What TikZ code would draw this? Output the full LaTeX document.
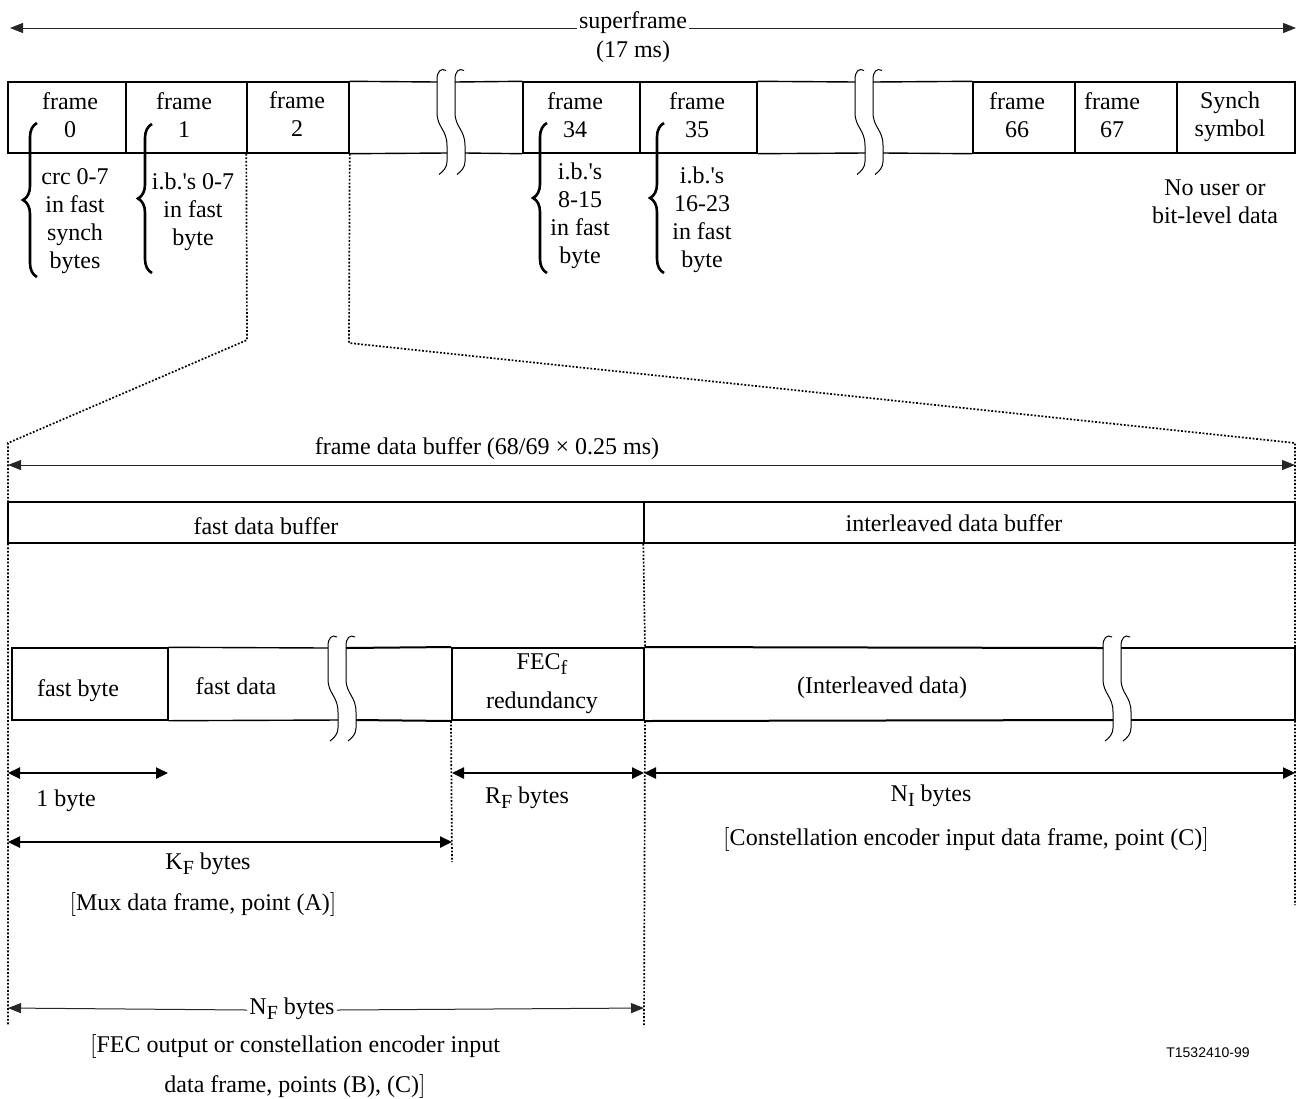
\documentclass[tikz,border=0pt]{standalone}
\usepackage{fontspec}
\setmainfont{Liberation Serif}
\newfontfamily\arialf{Liberation Sans}
\usetikzlibrary{arrows.meta,decorations.pathreplacing,fit}
\newcommand\subF[1]{\raisebox{-2.4pt}{\fontsize{10}{10}\selectfont #1}}
\begin{document}
\begin{tikzpicture}[x=0.5pt,y=-0.5pt,
  every node/.style={font=\fontsize{12}{14}\selectfont, inner sep=0pt},
  lbl/.style={align=center},
  cell/.style={draw, line width=0.7pt},
  cellh/.style={draw, line width=1pt},
  edge/.style={line width=0.7pt},
  heavy/.style={line width=1pt},
  brk/.style={line width=0.5pt},
  dots/.style={line width=0.85pt, dash pattern=on 0.9pt off 0.9pt},
  hair/.style={line width=0.5pt, draw=black!85},
  tip/.style={-{Triangle[length=6.5pt,width=5pt]}},
  dimthin/.style={line width=0.5pt, draw=black!85, {Triangle[length=6.5pt,width=5pt]}-{Triangle[length=6.5pt,width=5pt]}},
  dimthick/.style={line width=1.2pt, {Triangle[length=6pt,width=5.5pt]}-{Triangle[length=6pt,width=5.5pt]}},
  lbrace/.style={decorate, decoration={brace, amplitude=7pt}, line width=1.3pt},
  pics/breakmark/.style={code={
    \draw[brk] (9,-47) .. controls (4,-50) and (0,-46) .. (0,-38) -- (0,-5)
      .. controls (0,10) and (10,12) .. (10,28) -- (10,44)
      .. controls (10,50) and (6,54) .. (2,57);}}
]
\useasboundingbox (0,0) rectangle (1299,1098);

% ---------- superframe ----------
\node[lbl, anchor=base, inner xsep=1pt] (sf) at (633,28) {superframe};
\node[lbl] (sfms) at (633,52) {(17 ms)};
\coordinate (sfl) at (10,28);
\coordinate (sfr) at (1296,28);
\draw[hair, tip] (sf.base west) -- (sfl);
\draw[hair, tip] (sf.base east) -- (sfr);

% ---------- top row ----------
\node[cell, fit={(8,82) (126,153)}] (f0) {};
\node[cell, fit={(126,82) (247,153)}] (f1) {};
\node[cell, fit={(247,82) (349,153)}] (f2) {};
\node[cell, fit={(523,82) (640,153)}] (f34) {};
\node[cell, fit={(640,82) (757,153)}] (f35) {};
\node[cell, fit={(973,82) (1075,153)}] (f66) {};
\node[cell, fit={(1075,82) (1177,153)}] (f67) {};
\node[cell, fit={(1177,82) (1295,153)}] (syn) {};

\draw[edge] (f2.north east) -- (437,82);
\draw[edge] (f2.south east) -- (447,153);
\draw[edge] (455,82) -- (f34.north west);
\draw[edge] (465,153) -- (f34.south west);
\draw[edge] (f35.north east) -- (855,82);
\draw[edge] (f35.south east) -- (865,153);
\draw[edge] (873,82) -- (f66.north west);
\draw[edge] (883,153) -- (f66.south west);
\pic at (437,117.5) {breakmark};
\pic at (455,117.5) {breakmark};
\pic at (855,117.5) {breakmark};
\pic at (873,117.5) {breakmark};

\node[lbl] (t0) at (70,115) {frame\\0};
\node[lbl] (t1) at (184,115) {frame\\1};
\node[lbl] (t2) at (297,114) {frame\\2};
\node[lbl] (t34) at (575,115) {frame\\34};
\node[lbl] (t35) at (697,115) {frame\\35};
\node[lbl] (t66) at (1017,115) {frame\\66};
\node[lbl] (t67) at (1112,115) {frame\\67};
\node[lbl] (tsyn) at (1230,117) {Synch\\symbol};

% braces and notes
\draw[lbrace] (37,277) -- (37,123);
\draw[lbrace] (152,273) -- (152,124);
\draw[lbrace] (547,273) -- (547,123);
\draw[lbrace] (664,273) -- (664,123);
\node[lbl] (n0) at (75,221) {crc 0-7\\in fast\\synch\\bytes};
\node[lbl] (n1) at (193,212) {i.b.\textquotesingle s 0-7\\in fast\\byte};
\node[lbl] (n34) at (580,216) {i.b.\textquotesingle s\\8-15\\in fast\\byte};
\node[lbl] (n35) at (702,220) {i.b.\textquotesingle s\\16-23\\in fast\\byte};
\node[lbl] (nsyn) at (1215,202) {No user or\\bit-level data};

% ---------- dotted projection ----------
\coordinate (d1) at (247,340);
\coordinate (d2) at (8,443);
\coordinate (d3) at (8,1025);
\coordinate (e1) at (349,343);
\coordinate (e2) at (1295,443);
\coordinate (e3) at (1295,905);
\draw[dots] (f2.south west) -- (d1) -- (d2) -- (d3);
\draw[dots] (f2.south east) -- (e1) -- (e2) -- (e3);

% ---------- frame data buffer ----------
\node[lbl] (fdbl) at (487,449) {frame data buffer (68/69 × 0.25 ms)};
\coordinate (fdl) at (8,465);
\coordinate (fdr) at (1295,465);
\draw[dimthin] (fdl) -- (fdr);

\node[cell, fit={(8,502) (644,543)}] (fdb) {};
\node[cell, fit={(644,502) (1295,543)}] (idb) {};
\node[lbl] (fdbt) at (266,526) {fast data buffer};
\node[lbl] (idbt) at (954,523) {interleaved data buffer};

% ---------- data row ----------
\node[cell, fit={(12,648) (168,720)}] (fb) {};
\node[cellh, fit={(452,648) (644,720)}] (fec) {};
\draw[edge] (fb.north east) -- (328,648);
\draw[edge] (fb.south east) -- (338,720);
\draw[heavy] (346,648) -- (fec.north west);
\draw[heavy] (356,720) -- (fec.south west);
\draw[heavy] (fec.north east) -- (1103,648);
\draw[heavy] (fec.south east) -- (1113,720);
\draw[edge] (1121,648) -- (1295,648) -- (1295,720) -- (1131,720);
\pic at (328,684) {breakmark};
\pic at (346,684) {breakmark};
\pic at (1103,684) {breakmark};
\pic at (1121,684) {breakmark};

\node[lbl] (fbt) at (78,691) {fast byte};
\node[lbl] (fdt) at (236,686) {fast data};
\node[lbl] (fect) at (542,684) {FEC\subF{f}\\[5.5pt]redundancy};
\node[lbl] (ilt) at (882,688) {(Interleaved data)};

\draw[dots] (idb.south west) -- (fec.north east);
\coordinate (kfend) at (452,862);
\coordinate (nfend) at (644,1027);
\draw[dots] (fec.south west) -- (kfend);
\draw[dots] (fec.south east) -- (nfend);

% ---------- dimensions ----------
\coordinate (a1) at (8,773);
\coordinate (a2) at (168,773);
\coordinate (a3) at (452,773);
\coordinate (a4) at (644,773);
\coordinate (a5) at (1295,773);
\draw[dimthick] (a1) -- (a2);
\draw[dimthick] (a3) -- (a4);
\draw[dimthick] (a4) -- (a5);
\node[lbl] (l1) at (66,801) {1 byte};
\node[lbl] (lr) at (527,798) {R\subF{F} bytes};
\node[lbl] (lni) at (931,796) {N\subF{I} bytes};
\node[lbl] (lnit) at (966,839) {$\big[$Constellation encoder input data frame, point (C)$\big]$};

\coordinate (k1) at (8,842);
\coordinate (k2) at (452,842);
\draw[dimthick] (k1) -- (k2);
\node[lbl] (lk) at (208,864) {K\subF{F} bytes};
\node[lbl] (lkt) at (203,904) {$\big[$Mux data frame, point (A)$\big]$};

\node[lbl, anchor=mid, inner xsep=1pt] (nf) at (292,1010) {N\subF{F} bytes};
\coordinate (nl) at (8,1008);
\coordinate (nr) at (644,1008);
\draw[hair, tip] (nf.mid west) -- (nl);
\draw[hair, tip] (nf.mid east) -- (nr);
\node[lbl] (nft) at (295,1066) {$\big[$FEC output or constellation encoder input\\[6pt]data frame, points (B), (C)$\big]$};

\node[font=\arialf\fontsize{7}{9}\selectfont] (code) at (1208,1053) {T1532410-99};
\end{tikzpicture}
\end{document}
